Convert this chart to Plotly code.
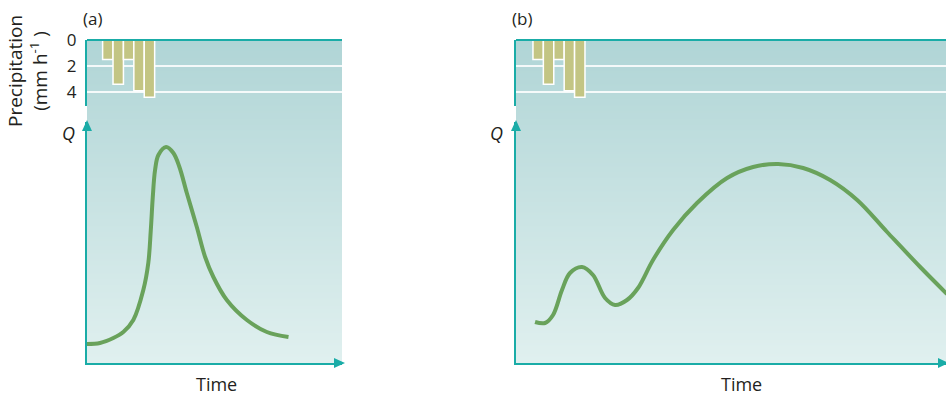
import base64, struct, zlib
import plotly.graph_objects as go

# ---------------- data ----------------
# precipitation bars (mm/h), hourly time steps
bar_time = [2, 3, 4, 5, 6]
precip = [1.5, 3.4, 1.5, 3.9, 4.4]
precip_ticks = [0, 2, 4]

# hydrograph (a): flashy response
time_a = [0.0, 1.25, 2.53, 3.49, 4.45, 5.41, 5.89, 6.13, 6.32, 6.54, 6.86, 7.6,
          8.3, 8.88, 9.59, 10.55, 11.35, 12.14, 13.43, 15.36, 17.28, 19.36]
q_a = [1.9, 2.0, 2.5, 3.1, 4.3, 7.3, 10.0, 13.3, 16.6, 19.3, 20.8, 21.6,
       21.0, 19.6, 17.0, 13.6, 10.6, 8.6, 6.3, 4.3, 3.1, 2.6]

# hydrograph (b): subdued, delayed response
time_b = [1.70, 2.66, 3.43, 4.29, 5.06, 6.22, 7.27, 8.43, 9.39, 10.54, 11.6,
          13.04, 14.97, 17.27, 20.16, 22.66, 25.06, 27.47, 30.06, 32.66,
          35.54, 38.72, 41.3]
q_b = [4.1, 4.0, 4.8, 7.3, 9.0, 9.6, 8.8, 6.5, 5.8, 6.3, 7.5,
       10.3, 13.3, 16.0, 18.5, 19.6, 19.9, 19.5, 18.3, 16.3,
       13.1, 9.6, 6.9]

panel_labels = ["(a)", "(b)"]
x_title = "Time"
q_label = "Q"
precip_title = "Precipitation<br>(mm h<sup>-1</sup> )"

# ---------------- styling ----------------
W, H = 946, 395
TEAL = "#1aaca7"
GREEN = "#69a25b"
BAR = "#c3c584"
TXT = "#231f20"
FONT = "Open Sans"


def px_x(p):
    return p / W


def px_y(p):
    return 1 - p / H


def gradient_png(top, bottom, n=256):
    def hex2rgb(h):
        h = h.lstrip("#")
        return [int(h[i:i + 2], 16) for i in (0, 2, 4)]
    a, b = hex2rgb(top), hex2rgb(bottom)
    raw = b""
    for i in range(n):
        f = i / (n - 1)
        c = bytes(int(round(a[k] + (b[k] - a[k]) * f)) for k in range(3))
        raw += b"\x00" + c
    def chunk(t, d):
        c = struct.pack(">I", len(d)) + t + d
        return c + struct.pack(">I", zlib.crc32(t + d) & 0xffffffff)
    png = b"\x89PNG\r\n\x1a\n"
    png += chunk(b"IHDR", struct.pack(">IIBBBBB", 1, n, 8, 2, 0, 0, 0))
    png += chunk(b"IDAT", zlib.compress(raw))
    png += chunk(b"IEND", b"")
    return "data:image/png;base64," + base64.b64encode(png).decode()


grad = gradient_png("#b0d5d6", "#e0f0ef")

top_px, bot_px = 40, 363
q_top_px = 122
pr_bot_px = 106
panels = [
    dict(x0=87, x1=342, xrange=[0, 24.5], x="x", y="y", y_pr="y3", xa="xaxis", ya="yaxis", ypa="yaxis3",
         t=time_a, q=q_a, ticks=True, lab=panel_labels[0], tx=216),
    dict(x0=516, x1=946, xrange=[-0.13, 41.2], x="x2", y="y2", y_pr="y4", xa="xaxis2", ya="yaxis2", ypa="yaxis4",
         t=time_b, q=q_b, ticks=False, lab=panel_labels[1], tx=741),
]

fig = go.Figure()
layout = dict(
    width=W, height=H, margin=dict(l=0, r=0, t=0, b=0, pad=0, autoexpand=False),
    paper_bgcolor="white", plot_bgcolor="rgba(0,0,0,0)",
    showlegend=False, font=dict(family=FONT, color=TXT, size=16),
)
images, shapes, annotations = [], [], []


def tri_path(pts):
    return "M " + " L ".join(f"{x:.5f},{y:.5f}" for x, y in pts) + " Z"


for p in panels:
    fig.add_trace(go.Bar(x=bar_time, y=precip, width=1, base=0,
                         marker=dict(color=BAR, line=dict(color="white", width=1.5)),
                         xaxis=p["x"], yaxis=p["y_pr"], hoverinfo="skip"))
    fig.add_trace(go.Scatter(x=p["t"], y=p["q"], mode="lines",
                             line=dict(color=GREEN, width=4, shape="spline", smoothing=1.0),
                             xaxis=p["x"], yaxis=p["y"], hoverinfo="skip"))
    layout[p["xa"]] = dict(domain=[px_x(p["x0"]), min(1.0, px_x(p["x1"]))], range=p["xrange"],
                           anchor=p["y"], showline=True, linecolor=TEAL, linewidth=2,
                           showticklabels=False, ticks="", showgrid=False, zeroline=False,
                           automargin=False, fixedrange=True)
    layout[p["ya"]] = dict(domain=[px_y(bot_px), px_y(q_top_px)], range=[0, (bot_px - q_top_px) / 10],
                           anchor=p["x"], showline=True, linecolor=TEAL, linewidth=2,
                           showticklabels=False, ticks="", showgrid=False, zeroline=False,
                           automargin=False)
    layout[p["ypa"]] = dict(domain=[px_y(pr_bot_px), px_y(top_px)],
                            range=[(pr_bot_px - top_px) / 13, 0],
                            anchor=p["x"], showline=True, linecolor=TEAL, linewidth=2,
                            tickvals=precip_ticks, ticks="", showticklabels=p["ticks"],
                            ticklabelstandoff=5, automargin=False,
                            tickfont=dict(size=17, color=TXT, family=FONT),
                            showgrid=True, gridcolor="rgba(255,255,255,0.85)", gridwidth=1.5,
                            zeroline=False)
    images.append(dict(source=grad, xref="paper", yref="paper",
                       x=px_x(p["x0"]), y=px_y(top_px),
                       sizex=(min(W, p["x1"]) - p["x0"]) / W, sizey=(bot_px - top_px) / H,
                       xanchor="left", yanchor="top", sizing="stretch", layer="below"))
    shapes.append(dict(type="line", xref="paper", yref="paper",
                       x0=px_x(p["x0"]), x1=min(1.0, px_x(p["x1"])), y0=px_y(top_px), y1=px_y(top_px),
                       line=dict(color=TEAL, width=2)))
    # Q arrowhead (styling)
    ax0 = p["x0"]
    shapes.append(dict(type="path", xref="paper", yref="paper",
                       path=tri_path([(px_x(ax0), px_y(q_top_px - 2)),
                                      (px_x(ax0 - 5), px_y(q_top_px + 9)),
                                      (px_x(ax0 + 5), px_y(q_top_px + 9))]),
                       fillcolor=TEAL, line=dict(width=0)))
    # time arrowhead (styling)
    tip = p["x1"] + 3
    shapes.append(dict(type="path", xref="paper", yref="paper",
                       path=tri_path([(px_x(tip), px_y(bot_px)),
                                      (px_x(tip - 11), px_y(bot_px - 5)),
                                      (px_x(tip - 11), px_y(bot_px + 5))]),
                       fillcolor=TEAL, line=dict(width=0)))
    annotations.append(dict(xref="paper", yref="paper", x=px_x(p["x0"] - 19), y=px_y(133),
                            xanchor="center", yanchor="middle",
                            text=f"<i>{q_label}</i>", showarrow=False, font=dict(size=18)))
    annotations.append(dict(xref="paper", yref="paper", x=px_x(p["x0"] - 6), y=px_y(18),
                            xanchor="left", yanchor="middle",
                            text=p["lab"], showarrow=False, font=dict(size=17)))
    annotations.append(dict(xref="paper", yref="paper", x=px_x(p["tx"]), y=px_y(384),
                            xanchor="center", yanchor="middle",
                            text=x_title, showarrow=False, font=dict(size=18)))

annotations.append(dict(xref="paper", yref="paper", x=px_x(28), y=px_y(71),
                        xanchor="center", yanchor="middle",
                        text=precip_title, textangle=-90, showarrow=False,
                        font=dict(size=19)))

layout["images"] = images
layout["shapes"] = shapes
layout["annotations"] = annotations
fig.update_layout(**layout)
fig.write_html("out.html", config={"displayModeBar": False},
               post_script="document.body.style.margin='0';document.body.style.padding='0';")
